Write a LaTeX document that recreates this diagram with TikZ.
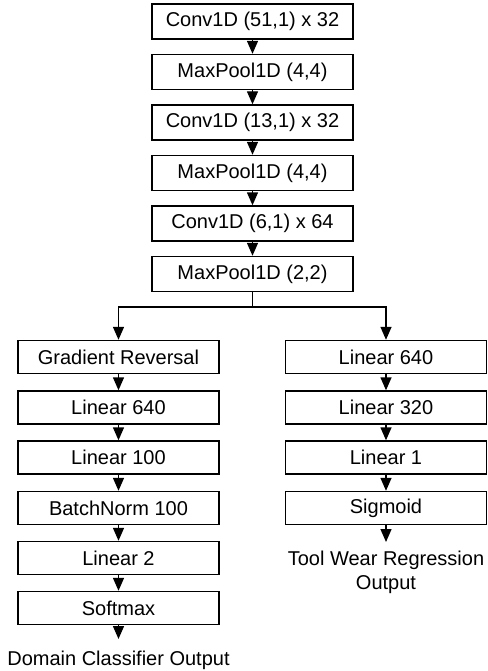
\documentclass[tikz,border=0pt]{standalone}
\usepackage{fontspec}
\setmainfont{Liberation Sans}
\usetikzlibrary{arrows.meta}
\tikzset{layer/.style={draw,minimum width=201pt,minimum height=33pt,inner sep=0pt,font=\fontsize{20}{24}\selectfont},
  outtext/.style={align=center,inner sep=0pt,font=\fontsize{20}{24}\selectfont}}
\begin{document}
\begin{tikzpicture}[x=1pt,y=-1pt,->,>={Triangle[length=13pt,width=11pt]},line width=1.4pt]
\useasboundingbox (0,0) rectangle (487,671);
% shared feature extractor
\node[layer,minimum height=35pt](c1) at (252.5,21.5) {Conv1D (51,1) x 32};
\node[layer,minimum height=35pt](p1) at (252.5,72) {MaxPool1D (4,4)};
\node[layer,minimum height=35pt](c2) at (252.5,122.5) {Conv1D (13,1) x 32};
\node[layer,minimum height=35pt](p2) at (252.5,173) {MaxPool1D (4,4)};
\node[layer,minimum height=35pt](c3) at (252.5,223.5) {Conv1D (6,1) x 64};
\node[layer,minimum height=35pt](p3) at (252.5,274) {MaxPool1D (2,2)};
\coordinate (split) at (252.5,307);
% domain classifier
\node[layer](gr) at (118.5,357) {Gradient Reversal};
\node[layer](dl1) at (118.5,407.5) {Linear 640};
\node[layer](dl2) at (118.5,457.5) {Linear 100};
\node[layer](bn) at (118.5,508) {BatchNorm 100};
\node[layer](dl3) at (118.5,558) {Linear 2};
\node[layer](soft) at (118.5,608) {Softmax};
\coordinate (domend) at (118.5,639);
\node[outtext](domout) at (118.5,660) {Domain Classifier Output};
% regressor
\node[layer](rl1) at (386,357) {Linear 640};
\node[layer](rl2) at (386,407.5) {Linear 320};
\node[layer](rl3) at (386,457.5) {Linear 1};
\node[layer](sig) at (386,508) {Sigmoid};
\coordinate (regend) at (386,542);
\node[outtext](regout) at (386,572) {Tool Wear Regression\\Output};

\path (c1) edge (p1); \path (p1) edge (c2); \path (c2) edge (p2);
\path (p2) edge (c3); \path (c3) edge (p3);
\draw[-] (p3) -- (split);
\draw (split) -| (gr);
\draw (split) -| (rl1);
\path (gr) edge (dl1); \path (dl1) edge (dl2); \path (dl2) edge (bn);
\path (bn) edge (dl3); \path (dl3) edge (soft); \path (soft) edge (domend);
\path (rl1) edge (rl2); \path (rl2) edge (rl3); \path (rl3) edge (sig);
\path (sig) edge (regend);
\end{tikzpicture}
\end{document}
